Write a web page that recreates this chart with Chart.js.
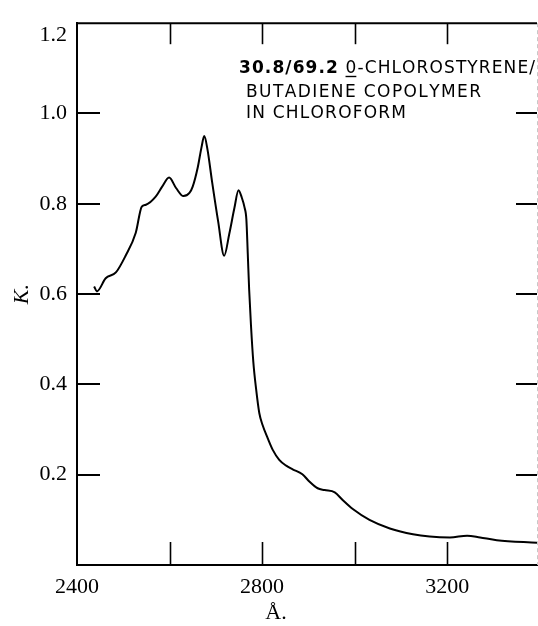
<!DOCTYPE html>
<html><head><meta charset="utf-8">
<script src="https://cdn.jsdelivr.net/npm/chart.js@4"></script>
<style>html,body{margin:0;padding:0;background:#fff;}canvas{display:block;}</style>
</head><body>
<canvas id="c" width="538" height="626"></canvas>
<script>
// Wavelength (Å) and extinction coefficient K
const wavelengths = [2437,2443,2462,2484,2505,2527,2540,2549,2570,2584,2599,2614,2630,2643,2650,2661,2669,2675,2682,2692,2705,2718,2729,2740,2749,2756,2762,2766,2769,2772,2776,2781,2787,2794,2801,2812,2823,2837,2852,2866,2887,2902,2920,2935,2957,2974,2996,3032,3076,3126,3162,3206,3243,3271,3307,3394];
const kValues = [0.617,0.606,0.635,0.648,0.685,0.736,0.794,0.798,0.816,0.838,0.858,0.835,0.817,0.824,0.838,0.881,0.925,0.950,0.920,0.848,0.761,0.685,0.733,0.790,0.830,0.814,0.792,0.765,0.690,0.610,0.530,0.450,0.390,0.336,0.310,0.281,0.255,0.233,0.220,0.212,0.201,0.185,0.170,0.166,0.161,0.144,0.124,0.100,0.081,0.068,0.063,0.061,0.065,0.061,0.055,0.049];
const xTickValues = [2400,2600,2800,3000,3200];
const xTickLabels = [2400,2800,3200];
const yTickValues = [0.2,0.4,0.6,0.8,1.0,1.2];
const xRange = [2400,3394];
const yRange = [0,1.2];
const xTitle = 'Å.';
const yTitle = 'K.';
const annotationLines = ['30.8/69.2 0-CHLOROSTYRENE/','BUTADIENE COPOLYMER','IN CHLOROFORM'];

const SERIF = '"Liberation Serif", "DejaVu Serif", serif';
const SANS = '"DejaVu Sans", sans-serif';

function drawSpaced(ctx, segs, x0, x1, y) {
  let natural = 0, n = 0;
  segs.forEach(s => { ctx.font = s.font; for (const ch of s.text) { natural += ctx.measureText(ch).width; n++; } });
  const sp = (x1 - x0 - natural) / (n - 1);
  let x = x0; const pos = [];
  segs.forEach(s => {
    ctx.font = s.font;
    for (const ch of s.text) {
      const w = ctx.measureText(ch).width;
      ctx.fillText(ch, x, y);
      pos.push({x, w});
      x += w + sp;
    }
  });
  return pos;
}

const framePlugin = {
  id: 'frame',
  afterDraw(chart) {
    const ctx = chart.ctx, a = chart.chartArea, xs = chart.scales.x, ys = chart.scales.y;
    ctx.save();
    ctx.strokeStyle = '#000';
    ctx.lineWidth = 2;
    ctx.beginPath(); ctx.moveTo(a.left - 1, a.top); ctx.lineTo(a.right, a.top); ctx.stroke();
    ctx.strokeStyle = '#c8c8c8'; ctx.lineWidth = 1; ctx.setLineDash([4,3]);
    ctx.beginPath(); ctx.moveTo(a.right + 0.5, a.top); ctx.lineTo(a.right + 0.5, a.bottom); ctx.stroke();
    ctx.setLineDash([]);
    ctx.strokeStyle = '#000';
    ctx.lineWidth = 1.6;
    xTickValues.filter(v => v > xRange[0]).forEach(v => {
      const px = Math.round(xs.getPixelForValue(v)) + 0.5;
      ctx.beginPath(); ctx.moveTo(px, a.bottom); ctx.lineTo(px, a.bottom - 23); ctx.stroke();
      ctx.beginPath(); ctx.moveTo(px, a.top); ctx.lineTo(px, a.top + 21); ctx.stroke();
    });
    ctx.lineWidth = 2;
    yTickValues.filter(v => v < yRange[1]).forEach(v => {
      const py = Math.round(ys.getPixelForValue(v));
      ctx.beginPath(); ctx.moveTo(a.left, py); ctx.lineTo(a.left + 23, py); ctx.stroke();
      ctx.beginPath(); ctx.moveTo(a.right - 21, py); ctx.lineTo(a.right, py); ctx.stroke();
    });
    ctx.fillStyle = '#000';
    ctx.font = '22px ' + SERIF;
    ctx.textAlign = 'right'; ctx.textBaseline = 'middle';
    ctx.fillText(yRange[1].toFixed(1), a.left - 10, ys.getPixelForValue(yRange[1]) + 12);
    ctx.textAlign = 'center';
    ctx.fillText(xTitle, xs.getPixelForValue(2830), 613);
    ctx.textAlign = 'left';
    const bold = 'bold 17px ' + SANS, reg = '17px ' + SANS;
    const l1 = annotationLines[0];
    const cut = l1.indexOf(' ');
    const pos = drawSpaced(ctx, [{text: l1.slice(0, cut), font: bold}, {text: l1.slice(cut), font: reg}], 239, 535, 69);
    const u = pos[cut + 1];
    ctx.lineWidth = 1.4;
    ctx.beginPath(); ctx.moveTo(u.x, 76.5); ctx.lineTo(u.x + u.w, 76.5); ctx.stroke();
    drawSpaced(ctx, [{text: annotationLines[1], font: reg}], 246, 481, 93);
    drawSpaced(ctx, [{text: annotationLines[2], font: reg}], 246, 406, 114);
    ctx.restore();
  }
};

new Chart(document.getElementById('c'), {
  type: 'line',
  data: {
    datasets: [{
      data: wavelengths.map((w, i) => ({x: w, y: kValues[i]})),
      borderColor: '#000', borderWidth: 2, pointRadius: 0, fill: false,
      cubicInterpolationMode: 'monotone'
    }]
  },
  options: {
    responsive: false, animation: false, events: [],
    layout: {padding: {top: 13, right: 1, left: 0, bottom: 0}},
    plugins: {legend: {display: false}, tooltip: {enabled: false}},
    scales: {
      x: {
        type: 'linear', min: xRange[0], max: xRange[1],
        grid: {display: false, drawTicks: false},
        border: {display: true, color: '#000', width: 2},
        afterBuildTicks: s => { s.ticks = xTickValues.map(v => ({value: v})); },
        afterFit: s => { s.height = 61; },
        ticks: {
          color: '#000', font: {family: SERIF, size: 22}, padding: 9,
          maxRotation: 0, autoSkip: false,
          callback: v => xTickLabels.includes(v) ? String(v) : ''
        },
        title: {display: false}
      },
      y: {
        type: 'linear', min: yRange[0], max: yRange[1],
        grid: {display: false, drawTicks: false},
        border: {display: true, color: '#000', width: 2},
        afterBuildTicks: s => { s.ticks = yTickValues.map(v => ({value: v})); },
        afterFit: s => { s.width = 77; },
        ticks: {
          color: '#000', font: {family: SERIF, size: 22}, padding: 10,
          callback: v => v >= yRange[1] ? '' : v.toFixed(1)
        },
        title: {display: true, text: yTitle, color: '#000',
          font: {family: SERIF, size: 22, style: 'italic'}, padding: {top: 9, bottom: 0}}
      }
    }
  },
  plugins: [framePlugin]
});
</script>
</body></html>
